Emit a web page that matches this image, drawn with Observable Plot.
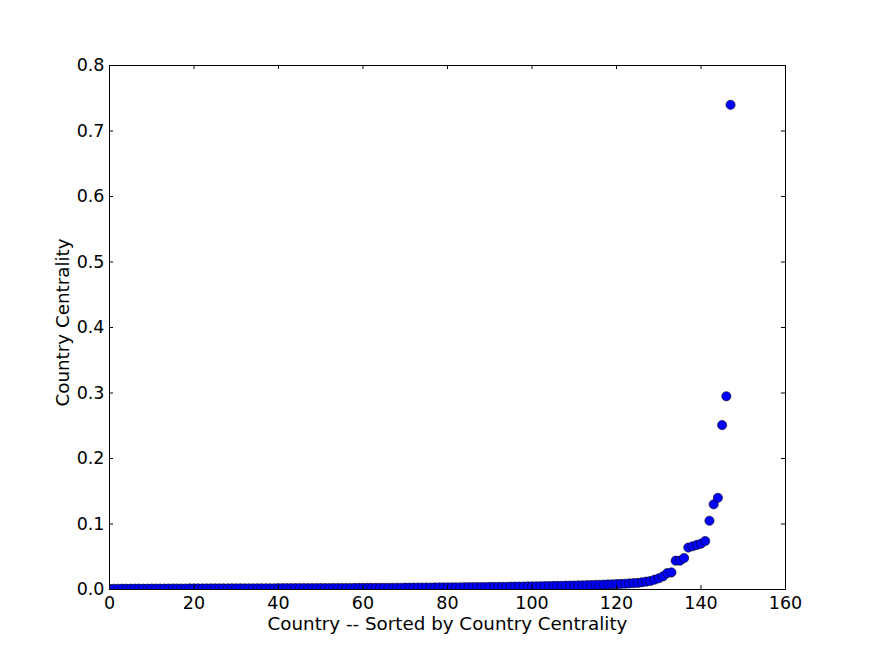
<!DOCTYPE html>
<html>
<head>
<meta charset="utf-8">
<script src="https://cdn.jsdelivr.net/npm/d3@7"></script>
<script src="https://cdn.jsdelivr.net/npm/@observablehq/plot@0.6"></script>
<style>
  html, body { margin: 0; padding: 0; background: #fff; }
</style>
</head>
<body>
<div id="chart"></div>
<script>
const centrality = [
  0.0010,0.0011,0.0011,0.0012,0.0012,0.0012,0.0013,0.0013,0.0013,0.0013,
  0.0014,0.0014,0.0014,0.0014,0.0015,0.0015,0.0015,0.0015,0.0015,0.0016,
  0.0016,0.0016,0.0016,0.0016,0.0017,0.0017,0.0017,0.0017,0.0017,0.0018,
  0.0018,0.0018,0.0018,0.0018,0.0018,0.0019,0.0019,0.0019,0.0019,0.0019,
  0.0020,0.0020,0.0020,0.0020,0.0020,0.0021,0.0021,0.0021,0.0021,0.0021,
  0.0022,0.0022,0.0022,0.0022,0.0023,0.0023,0.0023,0.0023,0.0024,0.0024,
  0.0024,0.0025,0.0025,0.0025,0.0026,0.0026,0.0026,0.0027,0.0027,0.0027,
  0.0028,0.0028,0.0029,0.0029,0.0029,0.0030,0.0030,0.0031,0.0031,0.0032,
  0.0032,0.0033,0.0033,0.0034,0.0035,0.0035,0.0036,0.0037,0.0037,0.0038,
  0.0039,0.0040,0.0040,0.0041,0.0042,0.0043,0.0044,0.0045,0.0046,0.0047,
  0.0048,0.0049,0.0050,0.0051,0.0052,0.0054,0.0055,0.0056,0.0058,0.0059,
  0.0061,0.0062,0.0064,0.0066,0.0068,0.0070,0.0072,0.0074,0.0077,0.0079,
  0.0082,0.0085,0.0088,0.0092,0.0096,0.0100,0.0110,0.0120,0.0130,0.0150,
  0.0170,0.0200,0.0250,0.0260,0.0440,0.0440,0.0480,0.0640,0.0660,0.0680,
  0.0700,0.0740,0.1050,0.1300,0.1400,0.2510,0.2950,0.7400
];
const xTicks = [0, 20, 40, 60, 80, 100, 120, 140, 160];
const yTicks = [0.0, 0.1, 0.2, 0.3, 0.4, 0.5, 0.6, 0.7, 0.8];
const xLabel = "Country -- Sorted by Country Centrality";
const yLabel = "Country Centrality";

const data = centrality.map((v, i) => ({rank: i, value: v}));

const W = 872, H = 654;
const mL = 109, mR = 87, mT = 65, mB = 65;
const innerW = W - mL - mR, innerH = H - mT - mB;
const tk = 4;

const chart = Plot.plot({
  width: W,
  height: H,
  marginLeft: mL,
  marginRight: mR,
  marginTop: mT,
  marginBottom: mB,
  style: {fontFamily: "DejaVu Sans", fontSize: "17.5px", color: "#000", background: "#fff"},
  x: {domain: [0, 160]},
  y: {domain: [0, 0.8]},
  marks: [
    Plot.dot(data, {x: "rank", y: "value", r: 4.6, fill: "#0000ff", stroke: "#000", strokeWidth: 0.6, clip: true}),
    // inward ticks on four sides
    Plot.tickX(xTicks, {x: d => d, insetTop: innerH - tk, stroke: "#000"}),
    Plot.tickX(xTicks, {x: d => d, insetBottom: innerH - tk, stroke: "#000"}),
    Plot.tickY(yTicks, {y: d => d, insetRight: innerW - tk, stroke: "#000"}),
    Plot.tickY(yTicks, {y: d => d, insetLeft: innerW - tk, stroke: "#000"}),
    Plot.axisX(xTicks, {anchor: "bottom", tickSize: 0, tickPadding: 7, fontSize: 17.5, label: null}),
    Plot.axisY(yTicks, {anchor: "left", tickSize: 0, tickPadding: 5, fontSize: 17.5,
      tickFormat: d3.format(".1f"), label: null}),
    Plot.text([xLabel], {frameAnchor: "bottom", dy: 35, textAnchor: "middle", lineAnchor: "middle", fontSize: 18.3, fill: "#000"}),
    Plot.text([yLabel], {frameAnchor: "left", dx: -46, dy: -5, rotate: -90, textAnchor: "middle", lineAnchor: "middle", fontSize: 18.3, fill: "#000"}),
    Plot.frame({stroke: "#000", strokeWidth: 1})
  ]
});
document.getElementById("chart").appendChild(chart);
</script>
</body>
</html>
